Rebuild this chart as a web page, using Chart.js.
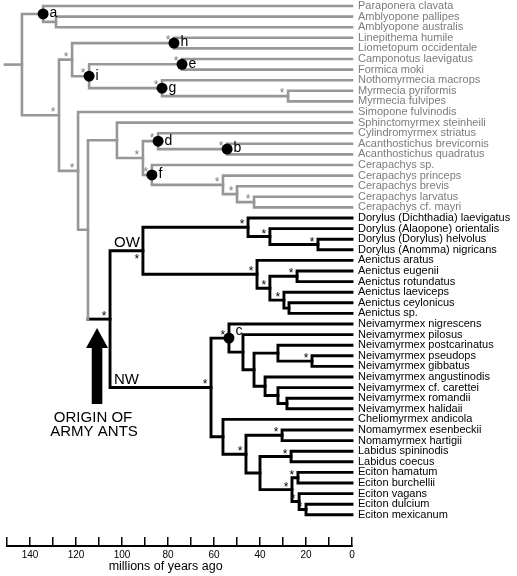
<!DOCTYPE html>
<html><head><meta charset="utf-8">
<script src="https://cdn.jsdelivr.net/npm/chart.js@4/dist/chart.umd.min.js"></script>
<style>html,body{margin:0;padding:0;background:#fff}canvas{display:block}</style>
</head><body>
<canvas id="c" width="517" height="576"></canvas>
<script>
// ---------- DATA ----------
const taxa = [
  'Paraponera clavata','Amblyopone pallipes','Amblyopone australis','Linepithema humile',
  'Liometopum occidentale','Camponotus laevigatus','Formica moki','Nothomyrmecia macrops',
  'Myrmecia pyriformis','Myrmecia fulvipes','Simopone fulvinodis','Sphinctomyrmex steinheili',
  'Cylindromyrmex striatus','Acanthostichus brevicornis','Acanthostichus quadratus','Cerapachys sp.',
  'Cerapachys princeps','Cerapachys brevis','Cerapachys larvatus','Cerapachys cf. mayri',
  'Dorylus (Dichthadia) laevigatus','Dorylus (Alaopone) orientalis','Dorylus (Dorylus) helvolus','Dorylus (Anomma) nigricans',
  'Aenictus aratus','Aenictus eugenii','Aenictus rotundatus','Aenictus laeviceps','Aenictus ceylonicus','Aenictus sp.',
  'Neivamyrmex nigrescens','Neivamyrmex pilosus','Neivamyrmex postcarinatus','Neivamyrmex pseudops',
  'Neivamyrmex gibbatus','Neivamyrmex angustinodis','Neivamyrmex cf. carettei','Neivamyrmex romandii',
  'Neivamyrmex halidaii','Cheliomyrmex andicola','Nomamyrmex esenbeckii','Nomamyrmex hartigii',
  'Labidus spininodis','Labidus coecus','Eciton hamatum','Eciton burchellii','Eciton vagans',
  'Eciton dulcium','Eciton mexicanum'
];
const armyFirstRow = 20;

// node = [age (millions of years ago), supported (*), node letter, child, child]
// a numeric child is a row index into taxa
const outgroupA   = [134.3, 0, 'a', 0, [128.7, 0, '', 1, 2]];
const formicoids  = [121.7, 1, '', [77.4, 1, 'h', 3, 4],
                     [114.3, 1, 'i', [73.9, 1, 'e', 5, 6], [82.6, 1, 'g', 7, [27.8, 1, '', 8, 9]]]];
const cerapachyines = [102.2, 0, '', 11,
                     [90.9, 1, '', [84.3, 1, 'd', 12, [54.3, 1, 'b', 13, 14]],
                                   [87.0, 1, 'f', 15, [56.1, 1, '', 16, [50.0, 1, '', 17, [42.6, 1, '', 18, 19]]]]]];
const dorylus     = [45.2, 1, '', 20, [35.7, 1, '', 21, [14.8, 1, '', 22, 23]]];
const aenictus    = [41.3, 1, '', 24, [35.7, 1, '', [23.9, 1, '', 25, 26], [29.6, 1, '', 27, [27.4, 0, '', 28, 29]]]];
const neivamyrmex = [53.5, 1, 'c', 30, [47.4, 0, '', 31,
                     [42.6, 0, '', [32.2, 0, '', 32, [17.4, 1, '', 33, 34]],
                                   [37.8, 0, '', 35, [32.2, 0, '', 36, [28.3, 0, '', 37, 38]]]]]];
const eciton      = [26.1, 1, '', [23.5, 1, '', 44, 45], [23.0, 1, '', 46, [20.0, 1, '', 47, 48]]];
const ecitonines  = [56.1, 0, '', 39, [46.1, 1, '', [30.4, 1, '', 40, 41], [40.0, 0, '', [26.5, 1, '', 42, 43], eciton]]];
const oldWorld    = [90.9, 1, '', dorylus, aenictus];
const newWorld    = [61.3, 1, '', neivamyrmex, ecitonines];
const armyAnts    = [105.2, 1, '', oldWorld, newWorld];
const tree        = [143.5, 0, '', outgroupA, [127.4, 1, '', formicoids, [119.1, 1, '', 10, [114.8, 0, '', cerapachyines, armyAnts]]]];
const rootStem    = 150.9;
const cladeNames  = [[oldWorld, 'OW'], [newWorld, 'NW']];
const xTickValues = [150,140,130,120,110,100,90,80,70,60,50,40,30,20,10,0];
const xLabelEvery = 20;
const xTitle = 'millions of years ago';

// ---------- STYLE ----------
const FONT = '"Liberation Sans", Arial, Helvetica, sans-serif';
const GRAY_LINE = '#979797', GRAY_TEXT = '#7c7c7c', BLACK = '#000';

// ---------- BUILD ----------
const nodes = [];
function build(n, black) {
  if (typeof n === 'number') return {row: n, age: 0, black, leaf: true};
  const isBlack = black || n === armyAnts;
  const kids = n.slice(3).map(c => build(c, isBlack));
  const node = {ref: n, age: n[0], star: !!n[1], letter: n[2], kids, black: isBlack,
                row: (kids[0].row + kids[kids.length - 1].row) / 2};
  nodes.push(node);
  return node;
}
const root = build(tree, false);

function lineDs(points, black) {
  return {type: 'scatter', data: points, showLine: true, borderColor: black ? BLACK : GRAY_LINE,
          borderWidth: black ? 2.9 : 2.6, pointRadius: 0, pointHoverRadius: 0, fill: false,
          clip: false, borderCapStyle: 'square', borderJoinStyle: 'miter', tension: 0, order: 1};
}
const datasets = [];
datasets.push({type: 'scatter', order: 0, clip: false,
  data: nodes.filter(n => n.letter).map(n => ({x: n.age, y: n.row})),
  pointRadius: 5.5, pointHoverRadius: 5.5, backgroundColor: BLACK, borderWidth: 0});
datasets.push(lineDs([{x: rootStem, y: root.row}, {x: root.age, y: root.row}], false));
nodes.forEach(n => {
  const a = n.kids[0], b = n.kids[n.kids.length - 1];
  const pts = [{x: a.age, y: a.row}, {x: n.age, y: a.row}, {x: n.age, y: b.row}, {x: b.age, y: b.row}];
  const cols = [a.black, n.black, b.black];
  let start = 0;
  for (let i = 1; i <= cols.length; i++) {
    if (i === cols.length || cols[i] !== cols[start]) {
      datasets.push(lineDs(pts.slice(start, i + 1), cols[start]));
      start = i;
    }
  }
});

// ---------- ANNOTATIONS ----------
const annot = {
  id: 'annot',
  afterDatasetsDraw(chart) {
    const ctx = chart.ctx, xs = chart.scales.x, ys = chart.scales.y;
    const P = n => [xs.getPixelForValue(n.age), ys.getPixelForValue(n.row)];
    ctx.save();
    const below = new Set([oldWorld]);
    // support asterisks
    ctx.font = '12px ' + FONT; ctx.textAlign = 'center'; ctx.textBaseline = 'alphabetic';
    nodes.forEach(n => {
      if (!n.star) return;
      const [px, py] = P(n);
      ctx.fillStyle = n.black ? BLACK : GRAY_TEXT;
      ctx.fillText('*', px - 6, below.has(n.ref) ? py + 12 : py + 1);
    });
    // node letters
    ctx.font = '14px ' + FONT; ctx.textAlign = 'left'; ctx.textBaseline = 'middle'; ctx.fillStyle = BLACK;
    nodes.forEach(n => {
      if (!n.letter) return;
      const [px, py] = P(n);
      ctx.fillText(n.letter, px + 6.5, n.letter === 'c' ? py - 7 : py - 0.5);
    });
    // clade names
    const army = nodes.find(n => n.ref === armyAnts);
    const [ax, ay] = P(army);
    ctx.font = '15px ' + FONT;
    cladeNames.forEach(([ref, name]) => {
      const n = nodes.find(m => m.ref === ref);
      ctx.fillText(name, ax + 4, ys.getPixelForValue(n.row) - 8);
    });
    // origin arrow
    const cx = ax - 13, tip = ay + 9;
    ctx.beginPath();
    ctx.moveTo(cx, tip); ctx.lineTo(cx + 11, tip + 20); ctx.lineTo(cx + 5.3, tip + 20);
    ctx.lineTo(cx + 5.3, tip + 76); ctx.lineTo(cx - 5.3, tip + 76); ctx.lineTo(cx - 5.3, tip + 20);
    ctx.lineTo(cx - 11, tip + 20); ctx.closePath();
    ctx.fillStyle = BLACK; ctx.fill();
    ctx.textAlign = 'center';
    ctx.fillText('ORIGIN OF', ax - 17, ay + 99);
    ctx.fillText('ARMY ANTS', ax - 16, ay + 113);
    ctx.restore();
  }
};

// ---------- CHART ----------
new Chart(document.getElementById('c'), {
  type: 'scatter',
  data: {datasets},
  options: {
    responsive: false, animation: false, devicePixelRatio: 1, events: [],
    layout: {autoPadding: false, padding: {left: 7, top: 0, right: 0, bottom: 0}},
    plugins: {legend: {display: false}, tooltip: {enabled: false}},
    scales: {
      x: {
        type: 'linear', position: 'bottom', reverse: true, min: 0, max: 150,
        afterBuildTicks: s => { s.ticks = xTickValues.map(v => ({value: v})); },
        afterFit: s => { s.height = 30; s.paddingLeft = 0; s.paddingRight = 0; },
        ticks: {autoSkip: false, maxRotation: 0, padding: 12, color: BLACK,
                font: {family: FONT, size: 10},
                callback: v => (v % xLabelEvery === 0 ? String(v) : '')},
        grid: {drawOnChartArea: false, drawTicks: true, tickLength: -9, color: BLACK, lineWidth: 1.5},
        border: {display: true, color: BLACK, width: 2},
        title: {display: true, text: xTitle + '        ', color: BLACK,
                font: {family: FONT, size: 12.5}, padding: {top: 0, bottom: 2}}
      },
      y: {
        type: 'linear', position: 'right', reverse: true, min: -0.566, max: 50.943,
        afterBuildTicks: s => { s.ticks = taxa.map((_, i) => ({value: i})); },
        afterFit: s => { s.width = 165; s.paddingTop = 0; s.paddingBottom = 0; },
        ticks: {autoSkip: false, padding: 6, font: {family: FONT, size: 11, lineHeight: 1},
                color: c => (c.index >= armyFirstRow ? BLACK : GRAY_TEXT),
                callback: v => taxa[v]},
        grid: {display: false, drawTicks: false},
        border: {display: false}
      }
    }
  },
  plugins: [annot]
});
</script>
</body></html>
